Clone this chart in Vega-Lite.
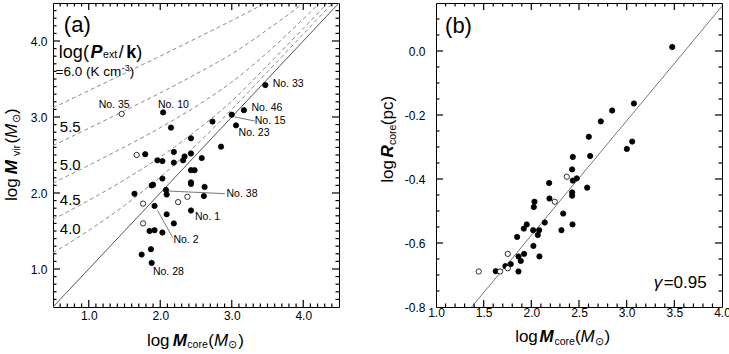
{
  "$schema": "https://vega.github.io/schema/vega-lite/v6.json",
  "background": "white",
  "padding": {"left": 2, "top": 1, "right": 0, "bottom": 0},
  "spacing": 37,
  "config": {
    "font": "Liberation Sans",
    "view": {"stroke": "black", "strokeWidth": 1},
    "axis": {"grid": false, "domain": false, "ticks": false, "labelColor": "black", "labelFont": "Liberation Sans", "labelFontSize": 12, "labelOverlap": false, "labelFlush": false},
    "text": {"font": "Liberation Sans", "color": "black"},
    "rule": {"color": "black", "strokeWidth": 1.2}
  },
  "datasets": {
    "ticks_a": [
      {"v": 0.6, "k": "minor"}, {"v": 0.7, "k": "minor"}, {"v": 0.8, "k": "minor"}, {"v": 0.9, "k": "minor"}, {"v": 1.0, "k": "major"},
      {"v": 1.1, "k": "minor"}, {"v": 1.2, "k": "minor"}, {"v": 1.3, "k": "minor"}, {"v": 1.4, "k": "minor"}, {"v": 1.5, "k": "minor"}, {"v": 1.6, "k": "minor"}, {"v": 1.7, "k": "minor"}, {"v": 1.8, "k": "minor"}, {"v": 1.9, "k": "minor"}, {"v": 2.0, "k": "major"},
      {"v": 2.1, "k": "minor"}, {"v": 2.2, "k": "minor"}, {"v": 2.3, "k": "minor"}, {"v": 2.4, "k": "minor"}, {"v": 2.5, "k": "minor"}, {"v": 2.6, "k": "minor"}, {"v": 2.7, "k": "minor"}, {"v": 2.8, "k": "minor"}, {"v": 2.9, "k": "minor"}, {"v": 3.0, "k": "major"},
      {"v": 3.1, "k": "minor"}, {"v": 3.2, "k": "minor"}, {"v": 3.3, "k": "minor"}, {"v": 3.4, "k": "minor"}, {"v": 3.5, "k": "minor"}, {"v": 3.6, "k": "minor"}, {"v": 3.7, "k": "minor"}, {"v": 3.8, "k": "minor"}, {"v": 3.9, "k": "minor"}, {"v": 4.0, "k": "major"},
      {"v": 4.1, "k": "minor"}, {"v": 4.2, "k": "minor"}, {"v": 4.3, "k": "minor"}, {"v": 4.4, "k": "minor"}
    ],
    "ticks_bx": [
      {"v": 1.1, "k": "minor"}, {"v": 1.2, "k": "minor"}, {"v": 1.3, "k": "minor"}, {"v": 1.4, "k": "minor"}, {"v": 1.5, "k": "major"},
      {"v": 1.6, "k": "minor"}, {"v": 1.7, "k": "minor"}, {"v": 1.8, "k": "minor"}, {"v": 1.9, "k": "minor"}, {"v": 2.0, "k": "major"},
      {"v": 2.1, "k": "minor"}, {"v": 2.2, "k": "minor"}, {"v": 2.3, "k": "minor"}, {"v": 2.4, "k": "minor"}, {"v": 2.5, "k": "major"},
      {"v": 2.6, "k": "minor"}, {"v": 2.7, "k": "minor"}, {"v": 2.8, "k": "minor"}, {"v": 2.9, "k": "minor"}, {"v": 3.0, "k": "major"},
      {"v": 3.1, "k": "minor"}, {"v": 3.2, "k": "minor"}, {"v": 3.3, "k": "minor"}, {"v": 3.4, "k": "minor"}, {"v": 3.5, "k": "major"},
      {"v": 3.6, "k": "minor"}, {"v": 3.7, "k": "minor"}, {"v": 3.8, "k": "minor"}, {"v": 3.9, "k": "minor"}
    ],
    "ticks_by": [
      {"v": -0.75, "k": "minor"}, {"v": -0.7, "k": "minor"}, {"v": -0.65, "k": "minor"}, {"v": -0.6, "k": "major"},
      {"v": -0.55, "k": "minor"}, {"v": -0.5, "k": "minor"}, {"v": -0.45, "k": "minor"}, {"v": -0.4, "k": "major"},
      {"v": -0.35, "k": "minor"}, {"v": -0.3, "k": "minor"}, {"v": -0.25, "k": "minor"}, {"v": -0.2, "k": "major"},
      {"v": -0.15, "k": "minor"}, {"v": -0.1, "k": "minor"}, {"v": -0.05, "k": "minor"}, {"v": 0.0, "k": "major"},
      {"v": 0.05, "k": "minor"}, {"v": 0.1, "k": "minor"}
    ],
    "curves_a": [
      {"P": "6.0", "x": 0.5, "y": 3.121}, {"P": "6.0", "x": 1.0, "y": 3.347}, {"P": "6.0", "x": 1.5, "y": 3.574}, {"P": "6.0", "x": 2.0, "y": 3.802}, {"P": "6.0", "x": 2.5, "y": 4.033}, {"P": "6.0", "x": 3.0, "y": 4.269}, {"P": "6.0", "x": 3.5, "y": 4.514},
      {"P": "5.5", "x": 0.5, "y": 2.623}, {"P": "5.5", "x": 1.0, "y": 2.851}, {"P": "5.5", "x": 1.5, "y": 3.082}, {"P": "5.5", "x": 2.0, "y": 3.317}, {"P": "5.5", "x": 2.5, "y": 3.565}, {"P": "5.5", "x": 3.0, "y": 3.83}, {"P": "5.5", "x": 3.5, "y": 4.15}, {"P": "5.5", "x": 4.0, "y": 4.5}, {"P": "5.5", "x": 4.5, "y": 4.9},
      {"P": "5.0", "x": 0.5, "y": 2.13}, {"P": "5.0", "x": 1.0, "y": 2.364}, {"P": "5.0", "x": 1.5, "y": 2.606}, {"P": "5.0", "x": 2.0, "y": 2.86}, {"P": "5.0", "x": 2.5, "y": 3.14}, {"P": "5.0", "x": 3.0, "y": 3.46}, {"P": "5.0", "x": 3.5, "y": 3.85}, {"P": "5.0", "x": 4.0, "y": 4.29}, {"P": "5.0", "x": 4.5, "y": 4.75},
      {"P": "4.5", "x": 0.5, "y": 1.652}, {"P": "4.5", "x": 1.0, "y": 1.903}, {"P": "4.5", "x": 1.5, "y": 2.174}, {"P": "4.5", "x": 2.0, "y": 2.473}, {"P": "4.5", "x": 2.5, "y": 2.82}, {"P": "4.5", "x": 3.0, "y": 3.21}, {"P": "4.5", "x": 3.5, "y": 3.68}, {"P": "4.5", "x": 4.0, "y": 4.165}, {"P": "4.5", "x": 4.5, "y": 4.655},
      {"P": "4.0", "x": 0.5, "y": 1.213}, {"P": "4.0", "x": 1.0, "y": 1.507}, {"P": "4.0", "x": 1.5, "y": 1.837}, {"P": "4.0", "x": 2.0, "y": 2.211}, {"P": "4.0", "x": 2.5, "y": 2.63}, {"P": "4.0", "x": 3.0, "y": 3.1}, {"P": "4.0", "x": 3.5, "y": 3.595}, {"P": "4.0", "x": 4.0, "y": 4.09}, {"P": "4.0", "x": 4.5, "y": 4.59}
    ],
    "ref_a": [{"x": 0.5, "y": 0.5}, {"x": 4.5, "y": 4.5}],
    "lead_a": [
      {"x": 3.043, "y": 3.0, "x2": 3.322, "y2": 2.947},
      {"x": 2.114, "y": 2.026, "x2": 2.904, "y2": 1.991},
      {"x": 1.961, "y": 1.772, "x2": 2.175, "y2": 1.412}
    ],
    "pts_a": [
      {"x": 3.47, "y": 3.42, "type": "filled"}, {"x": 2.04, "y": 3.06, "type": "filled"}, {"x": 2.15, "y": 2.86, "type": "filled"}, {"x": 2.73, "y": 2.94, "type": "filled"},
      {"x": 3.17, "y": 3.09, "type": "filled"}, {"x": 3.0, "y": 3.03, "type": "filled"}, {"x": 3.06, "y": 2.89, "type": "filled"}, {"x": 2.85, "y": 2.61, "type": "filled"},
      {"x": 2.43, "y": 2.72, "type": "filled"}, {"x": 1.79, "y": 2.51, "type": "filled"}, {"x": 2.19, "y": 2.54, "type": "filled"}, {"x": 1.96, "y": 2.43, "type": "filled"},
      {"x": 2.03, "y": 2.42, "type": "filled"}, {"x": 2.19, "y": 2.4, "type": "filled"}, {"x": 2.34, "y": 2.48, "type": "filled"}, {"x": 2.32, "y": 2.43, "type": "filled"},
      {"x": 2.43, "y": 2.52, "type": "filled"}, {"x": 2.58, "y": 2.46, "type": "filled"}, {"x": 2.43, "y": 2.3, "type": "filled"}, {"x": 2.48, "y": 2.3, "type": "filled"},
      {"x": 2.03, "y": 2.19, "type": "filled"}, {"x": 1.9, "y": 2.11, "type": "filled"}, {"x": 1.88, "y": 2.1, "type": "filled"}, {"x": 2.43, "y": 2.14, "type": "filled"},
      {"x": 2.43, "y": 2.12, "type": "filled"}, {"x": 2.62, "y": 2.08, "type": "filled"}, {"x": 1.64, "y": 1.99, "type": "filled"}, {"x": 2.08, "y": 2.04, "type": "filled"},
      {"x": 2.09, "y": 1.98, "type": "filled"}, {"x": 2.61, "y": 1.96, "type": "filled"}, {"x": 1.92, "y": 1.83, "type": "filled"}, {"x": 2.43, "y": 1.77, "type": "filled"},
      {"x": 2.09, "y": 1.72, "type": "filled"}, {"x": 2.19, "y": 1.6, "type": "filled"}, {"x": 1.85, "y": 1.5, "type": "filled"}, {"x": 1.92, "y": 1.51, "type": "filled"},
      {"x": 2.03, "y": 1.48, "type": "filled"}, {"x": 1.87, "y": 1.26, "type": "filled"}, {"x": 1.74, "y": 1.19, "type": "filled"}, {"x": 1.88, "y": 1.08, "type": "filled"},
      {"x": 1.46, "y": 3.04, "type": "open"}, {"x": 1.67, "y": 2.5, "type": "open"}, {"x": 1.76, "y": 1.86, "type": "open"}, {"x": 1.76, "y": 1.6, "type": "open"},
      {"x": 2.25, "y": 1.88, "type": "open"}, {"x": 2.38, "y": 1.95, "type": "open"}
    ],
    "nolab_a": [
      {"t": "No. 33", "x": 3.572, "y": 3.43}, {"t": "No. 46", "x": 3.276, "y": 3.12}, {"t": "No. 15", "x": 3.322, "y": 2.943}, {"t": "No. 23", "x": 3.095, "y": 2.786},
      {"t": "No. 38", "x": 2.927, "y": 1.983}, {"t": "No. 1", "x": 2.486, "y": 1.69}, {"t": "No. 2", "x": 2.184, "y": 1.382}, {"t": "No. 28", "x": 1.897, "y": 0.965},
      {"t": "No. 35", "x": 1.139, "y": 3.154}, {"t": "No. 10", "x": 1.967, "y": 3.154}
    ],
    "txt_a": [
      {"role": "axis", "t": "log", "x": 1.813, "y": -0.013}, {"role": "axis", "t": "(", "x": 2.671, "y": -0.013}, {"role": "axis", "t": ")", "x": 3.092, "y": -0.013},
      {"role": "axisM", "t": "M", "x": 2.175, "y": -0.013},
      {"role": "axisSub", "t": "core", "x": 2.379, "y": -0.039}, {"role": "axisSub", "t": "⊙", "x": 2.953, "y": -0.039},
      {"role": "axisMi", "t": "M", "x": 2.751, "y": -0.013},
      {"role": "yaxis", "t": "log", "x": 0.0, "y": 1.895}, {"role": "yaxis", "t": "(", "x": 0.0, "y": 2.651}, {"role": "yaxis", "t": ")", "x": 0.0, "y": 3.039},
      {"role": "yaxisM", "t": "M", "x": 0.0, "y": 2.246},
      {"role": "yaxisSub", "t": "vir", "x": 0.04, "y": 2.487}, {"role": "yaxisSub", "t": "⊙", "x": 0.04, "y": 2.921},
      {"role": "yaxisMi", "t": "M", "x": 0.0, "y": 2.724},
      {"role": "leg", "t": "log(", "x": 0.582, "y": 3.78}, {"role": "leg", "t": "/", "x": 1.418, "y": 3.78}, {"role": "leg", "t": ")", "x": 1.665, "y": 3.78},
      {"role": "legP", "t": "P", "x": 1.024, "y": 3.78},
      {"role": "legSub", "t": "ext", "x": 1.2, "y": 3.78},
      {"role": "legk", "t": "k", "x": 1.525, "y": 3.78},
      {"role": "leg2", "t": "=6.0 (K cm", "x": 0.536, "y": 3.54}, {"role": "leg2", "t": ")", "x": 1.575, "y": 3.54},
      {"role": "leg2sup", "t": "-3", "x": 1.462, "y": 3.605},
      {"role": "panel", "t": "(a)", "x": 0.652, "y": 4.118},
      {"role": "plab", "t": "5.5", "x": 0.596, "y": 2.864}, {"role": "plab", "t": "5.0", "x": 0.596, "y": 2.366}, {"role": "plab", "t": "4.5", "x": 0.596, "y": 1.912}, {"role": "plab", "t": "4.0", "x": 0.596, "y": 1.52}
    ],
    "pts_b": [
      {"x": 3.478, "y": 0.0125, "type": "filled"}, {"x": 3.076, "y": -0.164, "type": "filled"}, {"x": 2.848, "y": -0.186, "type": "filled"}, {"x": 2.729, "y": -0.22, "type": "filled"},
      {"x": 2.603, "y": -0.268, "type": "filled"}, {"x": 3.058, "y": -0.283, "type": "filled"}, {"x": 3.002, "y": -0.306, "type": "filled"}, {"x": 2.617, "y": -0.328, "type": "filled"},
      {"x": 2.435, "y": -0.331, "type": "filled"}, {"x": 2.428, "y": -0.37, "type": "filled"}, {"x": 2.435, "y": -0.405, "type": "filled"}, {"x": 2.477, "y": -0.398, "type": "filled"},
      {"x": 2.187, "y": -0.4125, "type": "filled"}, {"x": 2.586, "y": -0.427, "type": "filled"}, {"x": 2.428, "y": -0.442, "type": "filled"}, {"x": 2.428, "y": -0.452, "type": "filled"},
      {"x": 2.19, "y": -0.461, "type": "filled"}, {"x": 2.033, "y": -0.471, "type": "filled"}, {"x": 2.026, "y": -0.4875, "type": "filled"}, {"x": 2.334, "y": -0.508, "type": "filled"},
      {"x": 2.141, "y": -0.536, "type": "filled"}, {"x": 1.952, "y": -0.542, "type": "filled"}, {"x": 2.432, "y": -0.542, "type": "filled"}, {"x": 1.921, "y": -0.555, "type": "filled"},
      {"x": 2.019, "y": -0.56, "type": "filled"}, {"x": 2.082, "y": -0.56, "type": "filled"}, {"x": 2.316, "y": -0.56, "type": "filled"}, {"x": 1.851, "y": -0.581, "type": "filled"},
      {"x": 2.068, "y": -0.575, "type": "filled"}, {"x": 2.022, "y": -0.609, "type": "filled"}, {"x": 1.924, "y": -0.634, "type": "filled"}, {"x": 2.085, "y": -0.642, "type": "filled"},
      {"x": 1.865, "y": -0.642, "type": "filled"}, {"x": 1.889, "y": -0.656, "type": "filled"}, {"x": 1.784, "y": -0.666, "type": "filled"}, {"x": 1.728, "y": -0.672, "type": "filled"},
      {"x": 1.627, "y": -0.688, "type": "filled"}, {"x": 1.865, "y": -0.689, "type": "filled"},
      {"x": 1.448, "y": -0.689, "type": "open"}, {"x": 1.672, "y": -0.689, "type": "open"}, {"x": 1.753, "y": -0.679, "type": "open"}, {"x": 1.753, "y": -0.634, "type": "open"},
      {"x": 2.246, "y": -0.471, "type": "open"}, {"x": 2.372, "y": -0.393, "type": "open"}
    ],
    "fit_b": [{"x": 1.3745, "y": -0.8}, {"x": 4.0, "y": 0.14}],
    "txt_b": [
      {"role": "axis", "t": "log", "x": 1.83, "y": -0.908}, {"role": "axis", "t": "(", "x": 2.458, "y": -0.908}, {"role": "axis", "t": ")", "x": 2.768, "y": -0.908},
      {"role": "axisM", "t": "M", "x": 2.085, "y": -0.908},
      {"role": "axisSub", "t": "core", "x": 2.243, "y": -0.918}, {"role": "axisSub", "t": "⊙", "x": 2.663, "y": -0.918},
      {"role": "axisMi", "t": "M", "x": 2.516, "y": -0.908},
      {"role": "yaxis", "t": "log", "x": 0.551, "y": -0.4115}, {"role": "yaxis", "t": "(pc)", "x": 0.551, "y": -0.232},
      {"role": "yaxisM", "t": "R", "x": 0.551, "y": -0.333},
      {"role": "yaxisSub", "t": "core", "x": 0.583, "y": -0.294},
      {"role": "panel", "t": "(b)", "x": 1.095, "y": 0.057},
      {"role": "gam", "t": "γ", "x": 3.283, "y": -0.742},
      {"role": "gam2", "t": "=0.95", "x": 3.388, "y": -0.742}
    ]
  },
  "hconcat": [
    {
      "width": 286,
      "height": 304,
      "layer": [
        {
          "data": {"name": "curves_a"},
          "mark": {"type": "line", "color": "#8a8a8a", "strokeWidth": 1, "strokeDash": [4, 3], "clip": true, "interpolate": "monotone"},
          "encoding": {
            "x": {"field": "x", "type": "quantitative", "scale": {"domain": [0.5, 4.5], "nice": false, "zero": false},
              "axis": {"orient": "bottom", "values": [1, 2, 3, 4], "format": ".1f", "labelPadding": 3, "title": null}},
            "y": {"field": "y", "type": "quantitative", "scale": {"domain": [0.5, 4.5], "nice": false, "zero": false},
              "axis": {"orient": "left", "values": [1, 2, 3, 4], "format": ".1f", "labelPadding": 6, "title": null}},
            "detail": {"field": "P", "type": "nominal"}
          }
        },
        {
          "data": {"name": "ref_a"},
          "mark": {"type": "line", "color": "#555555", "strokeWidth": 1, "clip": true},
          "encoding": {
            "x": {"field": "x", "type": "quantitative", "scale": {"domain": [0.5, 4.5], "nice": false, "zero": false}},
            "y": {"field": "y", "type": "quantitative", "scale": {"domain": [0.5, 4.5], "nice": false, "zero": false}}
          }
        },
        {
          "data": {"name": "ticks_a"}, "transform": [{"filter": "datum.k == 'major'"}],
          "mark": {"type": "rule"},
          "encoding": {
            "x": {"field": "v", "type": "quantitative", "scale": {"domain": [0.5, 4.5], "nice": false, "zero": false}},
            "y": {"datum": 0.5, "type": "quantitative", "scale": {"domain": [0.5, 4.5], "nice": false, "zero": false}},
            "y2": {"datum": 0.592}
          }
        },
        {
          "data": {"name": "ticks_a"}, "transform": [{"filter": "datum.k == 'minor'"}],
          "mark": {"type": "rule"},
          "encoding": {
            "x": {"field": "v", "type": "quantitative", "scale": {"domain": [0.5, 4.5], "nice": false, "zero": false}},
            "y": {"datum": 0.5, "type": "quantitative", "scale": {"domain": [0.5, 4.5], "nice": false, "zero": false}},
            "y2": {"datum": 0.546}
          }
        },
        {
          "data": {"name": "ticks_a"}, "transform": [{"filter": "datum.k == 'major'"}],
          "mark": {"type": "rule"},
          "encoding": {
            "x": {"field": "v", "type": "quantitative", "scale": {"domain": [0.5, 4.5], "nice": false, "zero": false}},
            "y": {"datum": 4.5, "type": "quantitative", "scale": {"domain": [0.5, 4.5], "nice": false, "zero": false}},
            "y2": {"datum": 4.408}
          }
        },
        {
          "data": {"name": "ticks_a"}, "transform": [{"filter": "datum.k == 'minor'"}],
          "mark": {"type": "rule"},
          "encoding": {
            "x": {"field": "v", "type": "quantitative", "scale": {"domain": [0.5, 4.5], "nice": false, "zero": false}},
            "y": {"datum": 4.5, "type": "quantitative", "scale": {"domain": [0.5, 4.5], "nice": false, "zero": false}},
            "y2": {"datum": 4.454}
          }
        },
        {
          "data": {"name": "ticks_a"}, "transform": [{"filter": "datum.k == 'major'"}],
          "mark": {"type": "rule"},
          "encoding": {
            "y": {"field": "v", "type": "quantitative", "scale": {"domain": [0.5, 4.5], "nice": false, "zero": false}},
            "x": {"datum": 0.5, "type": "quantitative", "scale": {"domain": [0.5, 4.5], "nice": false, "zero": false}},
            "x2": {"datum": 0.598}
          }
        },
        {
          "data": {"name": "ticks_a"}, "transform": [{"filter": "datum.k == 'minor'"}],
          "mark": {"type": "rule"},
          "encoding": {
            "y": {"field": "v", "type": "quantitative", "scale": {"domain": [0.5, 4.5], "nice": false, "zero": false}},
            "x": {"datum": 0.5, "type": "quantitative", "scale": {"domain": [0.5, 4.5], "nice": false, "zero": false}},
            "x2": {"datum": 0.549}
          }
        },
        {
          "data": {"name": "ticks_a"}, "transform": [{"filter": "datum.k == 'major'"}],
          "mark": {"type": "rule"},
          "encoding": {
            "y": {"field": "v", "type": "quantitative", "scale": {"domain": [0.5, 4.5], "nice": false, "zero": false}},
            "x": {"datum": 4.5, "type": "quantitative", "scale": {"domain": [0.5, 4.5], "nice": false, "zero": false}},
            "x2": {"datum": 4.402}
          }
        },
        {
          "data": {"name": "ticks_a"}, "transform": [{"filter": "datum.k == 'minor'"}],
          "mark": {"type": "rule"},
          "encoding": {
            "y": {"field": "v", "type": "quantitative", "scale": {"domain": [0.5, 4.5], "nice": false, "zero": false}},
            "x": {"datum": 4.5, "type": "quantitative", "scale": {"domain": [0.5, 4.5], "nice": false, "zero": false}},
            "x2": {"datum": 4.451}
          }
        },
        {
          "data": {"name": "lead_a"},
          "mark": {"type": "rule", "color": "#777777", "strokeWidth": 1},
          "encoding": {
            "x": {"field": "x", "type": "quantitative", "scale": {"domain": [0.5, 4.5], "nice": false, "zero": false}},
            "y": {"field": "y", "type": "quantitative", "scale": {"domain": [0.5, 4.5], "nice": false, "zero": false}},
            "x2": {"field": "x2"},
            "y2": {"field": "y2"}
          }
        },
        {
          "data": {"name": "pts_a"},
          "mark": {"type": "point", "shape": "circle", "filled": true, "size": 28, "stroke": "black", "strokeWidth": 0.8, "opacity": 1},
          "encoding": {
            "x": {"field": "x", "type": "quantitative", "scale": {"domain": [0.5, 4.5], "nice": false, "zero": false}},
            "y": {"field": "y", "type": "quantitative", "scale": {"domain": [0.5, 4.5], "nice": false, "zero": false}},
            "fill": {"field": "type", "type": "nominal", "scale": {"domain": ["filled", "open"], "range": ["black", "white"]}, "legend": null}
          }
        },
        {
          "data": {"name": "nolab_a"},
          "mark": {"type": "text", "fontSize": 10.5, "align": "left", "baseline": "middle"},
          "encoding": {
            "x": {"field": "x", "type": "quantitative", "scale": {"domain": [0.5, 4.5], "nice": false, "zero": false}},
            "y": {"field": "y", "type": "quantitative", "scale": {"domain": [0.5, 4.5], "nice": false, "zero": false}},
            "text": {"field": "t"}
          }
        },
        {
          "data": {"name": "txt_a"},
          "transform": [{"filter": "datum.role == 'axis'"}],
          "mark": {"type": "text", "fontSize": 17, "align": "left", "baseline": "alphabetic"},
          "encoding": {
            "x": {"field": "x", "type": "quantitative", "scale": {"domain": [0.5, 4.5], "nice": false, "zero": false}},
            "y": {"field": "y", "type": "quantitative", "scale": {"domain": [0.5, 4.5], "nice": false, "zero": false}},
            "text": {"field": "t"}
          }
        },
        {
          "data": {"name": "txt_a"},
          "transform": [{"filter": "datum.role == 'leg'"}],
          "mark": {"type": "text", "fontSize": 18, "align": "left", "baseline": "alphabetic"},
          "encoding": {
            "x": {"field": "x", "type": "quantitative", "scale": {"domain": [0.5, 4.5], "nice": false, "zero": false}},
            "y": {"field": "y", "type": "quantitative", "scale": {"domain": [0.5, 4.5], "nice": false, "zero": false}},
            "text": {"field": "t"}
          }
        },
        {
          "data": {"name": "txt_a"},
          "transform": [{"filter": "datum.role == 'axisM'"}],
          "mark": {"type": "text", "fontSize": 17, "fontWeight": "bold", "fontStyle": "italic", "align": "left", "baseline": "alphabetic"},
          "encoding": {
            "x": {"field": "x", "type": "quantitative", "scale": {"domain": [0.5, 4.5], "nice": false, "zero": false}},
            "y": {"field": "y", "type": "quantitative", "scale": {"domain": [0.5, 4.5], "nice": false, "zero": false}},
            "text": {"field": "t"}
          }
        },
        {
          "data": {"name": "txt_a"},
          "transform": [{"filter": "datum.role == 'legP'"}],
          "mark": {"type": "text", "fontSize": 18, "fontWeight": "bold", "fontStyle": "italic", "align": "left", "baseline": "alphabetic"},
          "encoding": {
            "x": {"field": "x", "type": "quantitative", "scale": {"domain": [0.5, 4.5], "nice": false, "zero": false}},
            "y": {"field": "y", "type": "quantitative", "scale": {"domain": [0.5, 4.5], "nice": false, "zero": false}},
            "text": {"field": "t"}
          }
        },
        {
          "data": {"name": "txt_a"},
          "transform": [{"filter": "datum.role == 'legk'"}],
          "mark": {"type": "text", "fontSize": 18, "fontWeight": "bold", "align": "left", "baseline": "alphabetic"},
          "encoding": {
            "x": {"field": "x", "type": "quantitative", "scale": {"domain": [0.5, 4.5], "nice": false, "zero": false}},
            "y": {"field": "y", "type": "quantitative", "scale": {"domain": [0.5, 4.5], "nice": false, "zero": false}},
            "text": {"field": "t"}
          }
        },
        {
          "data": {"name": "txt_a"},
          "transform": [{"filter": "datum.role == 'axisMi'"}],
          "mark": {"type": "text", "fontSize": 17, "fontStyle": "italic", "align": "left", "baseline": "alphabetic"},
          "encoding": {
            "x": {"field": "x", "type": "quantitative", "scale": {"domain": [0.5, 4.5], "nice": false, "zero": false}},
            "y": {"field": "y", "type": "quantitative", "scale": {"domain": [0.5, 4.5], "nice": false, "zero": false}},
            "text": {"field": "t"}
          }
        },
        {
          "data": {"name": "txt_a"},
          "transform": [{"filter": "datum.role == 'axisSub' || datum.role == 'legSub'"}],
          "mark": {"type": "text", "fontSize": 10.5, "align": "left", "baseline": "alphabetic"},
          "encoding": {
            "x": {"field": "x", "type": "quantitative", "scale": {"domain": [0.5, 4.5], "nice": false, "zero": false}},
            "y": {"field": "y", "type": "quantitative", "scale": {"domain": [0.5, 4.5], "nice": false, "zero": false}},
            "text": {"field": "t"}
          }
        },
        {
          "data": {"name": "txt_a"},
          "transform": [{"filter": "datum.role == 'yaxis'"}],
          "mark": {"type": "text", "fontSize": 17, "angle": 270, "align": "left", "baseline": "alphabetic"},
          "encoding": {
            "x": {"field": "x", "type": "quantitative", "scale": {"domain": [0.5, 4.5], "nice": false, "zero": false}},
            "y": {"field": "y", "type": "quantitative", "scale": {"domain": [0.5, 4.5], "nice": false, "zero": false}},
            "text": {"field": "t"}
          }
        },
        {
          "data": {"name": "txt_a"},
          "transform": [{"filter": "datum.role == 'yaxisM'"}],
          "mark": {"type": "text", "fontSize": 17, "fontWeight": "bold", "fontStyle": "italic", "angle": 270, "align": "left", "baseline": "alphabetic"},
          "encoding": {
            "x": {"field": "x", "type": "quantitative", "scale": {"domain": [0.5, 4.5], "nice": false, "zero": false}},
            "y": {"field": "y", "type": "quantitative", "scale": {"domain": [0.5, 4.5], "nice": false, "zero": false}},
            "text": {"field": "t"}
          }
        },
        {
          "data": {"name": "txt_a"},
          "transform": [{"filter": "datum.role == 'yaxisMi'"}],
          "mark": {"type": "text", "fontSize": 17, "fontStyle": "italic", "angle": 270, "align": "left", "baseline": "alphabetic"},
          "encoding": {
            "x": {"field": "x", "type": "quantitative", "scale": {"domain": [0.5, 4.5], "nice": false, "zero": false}},
            "y": {"field": "y", "type": "quantitative", "scale": {"domain": [0.5, 4.5], "nice": false, "zero": false}},
            "text": {"field": "t"}
          }
        },
        {
          "data": {"name": "txt_a"},
          "transform": [{"filter": "datum.role == 'yaxisSub'"}],
          "mark": {"type": "text", "fontSize": 10.5, "angle": 270, "align": "left", "baseline": "alphabetic"},
          "encoding": {
            "x": {"field": "x", "type": "quantitative", "scale": {"domain": [0.5, 4.5], "nice": false, "zero": false}},
            "y": {"field": "y", "type": "quantitative", "scale": {"domain": [0.5, 4.5], "nice": false, "zero": false}},
            "text": {"field": "t"}
          }
        },
        {
          "data": {"name": "txt_a"},
          "transform": [{"filter": "datum.role == 'leg2'"}],
          "mark": {"type": "text", "fontSize": 13.5, "align": "left", "baseline": "alphabetic"},
          "encoding": {
            "x": {"field": "x", "type": "quantitative", "scale": {"domain": [0.5, 4.5], "nice": false, "zero": false}},
            "y": {"field": "y", "type": "quantitative", "scale": {"domain": [0.5, 4.5], "nice": false, "zero": false}},
            "text": {"field": "t"}
          }
        },
        {
          "data": {"name": "txt_a"},
          "transform": [{"filter": "datum.role == 'leg2sup'"}],
          "mark": {"type": "text", "fontSize": 9, "align": "left", "baseline": "alphabetic"},
          "encoding": {
            "x": {"field": "x", "type": "quantitative", "scale": {"domain": [0.5, 4.5], "nice": false, "zero": false}},
            "y": {"field": "y", "type": "quantitative", "scale": {"domain": [0.5, 4.5], "nice": false, "zero": false}},
            "text": {"field": "t"}
          }
        },
        {
          "data": {"name": "txt_a"},
          "transform": [{"filter": "datum.role == 'panel'"}],
          "mark": {"type": "text", "fontSize": 22, "align": "left", "baseline": "alphabetic"},
          "encoding": {
            "x": {"field": "x", "type": "quantitative", "scale": {"domain": [0.5, 4.5], "nice": false, "zero": false}},
            "y": {"field": "y", "type": "quantitative", "scale": {"domain": [0.5, 4.5], "nice": false, "zero": false}},
            "text": {"field": "t"}
          }
        },
        {
          "data": {"name": "txt_a"},
          "transform": [{"filter": "datum.role == 'plab'"}],
          "mark": {"type": "text", "fontSize": 15, "align": "left", "baseline": "middle"},
          "encoding": {
            "x": {"field": "x", "type": "quantitative", "scale": {"domain": [0.5, 4.5], "nice": false, "zero": false}},
            "y": {"field": "y", "type": "quantitative", "scale": {"domain": [0.5, 4.5], "nice": false, "zero": false}},
            "text": {"field": "t"}
          }
        }
      ]
    },
    {
      "width": 286,
      "height": 304,
      "layer": [
        {
          "data": {"name": "fit_b"},
          "mark": {"type": "line", "color": "#777777", "strokeWidth": 1, "clip": true},
          "encoding": {
            "x": {"field": "x", "type": "quantitative", "scale": {"domain": [1, 4], "nice": false, "zero": false},
              "axis": {"orient": "bottom", "values": [1, 1.5, 2, 2.5, 3, 3.5, 4], "format": ".1f", "labelPadding": 0, "title": null}},
            "y": {"field": "y", "type": "quantitative", "scale": {"domain": [-0.8, 0.15], "nice": false, "zero": false},
              "axis": {"orient": "left", "values": [-0.8, -0.6, -0.4, -0.2, 0], "format": ".1f", "labelExpr": "replace(datum.label, '−', '-')", "labelPadding": 11, "title": null}}
          }
        },
        {
          "data": {"name": "ticks_bx"}, "transform": [{"filter": "datum.k == 'major'"}],
          "mark": {"type": "rule"},
          "encoding": {
            "x": {"field": "v", "type": "quantitative", "scale": {"domain": [1, 4], "nice": false, "zero": false}},
            "y": {"datum": -0.8, "type": "quantitative", "scale": {"domain": [-0.8, 0.15], "nice": false, "zero": false}},
            "y2": {"datum": -0.778}
          }
        },
        {
          "data": {"name": "ticks_bx"}, "transform": [{"filter": "datum.k == 'minor'"}],
          "mark": {"type": "rule"},
          "encoding": {
            "x": {"field": "v", "type": "quantitative", "scale": {"domain": [1, 4], "nice": false, "zero": false}},
            "y": {"datum": -0.8, "type": "quantitative", "scale": {"domain": [-0.8, 0.15], "nice": false, "zero": false}},
            "y2": {"datum": -0.789}
          }
        },
        {
          "data": {"name": "ticks_bx"}, "transform": [{"filter": "datum.k == 'major'"}],
          "mark": {"type": "rule"},
          "encoding": {
            "x": {"field": "v", "type": "quantitative", "scale": {"domain": [1, 4], "nice": false, "zero": false}},
            "y": {"datum": 0.15, "type": "quantitative", "scale": {"domain": [-0.8, 0.15], "nice": false, "zero": false}},
            "y2": {"datum": 0.128}
          }
        },
        {
          "data": {"name": "ticks_bx"}, "transform": [{"filter": "datum.k == 'minor'"}],
          "mark": {"type": "rule"},
          "encoding": {
            "x": {"field": "v", "type": "quantitative", "scale": {"domain": [1, 4], "nice": false, "zero": false}},
            "y": {"datum": 0.15, "type": "quantitative", "scale": {"domain": [-0.8, 0.15], "nice": false, "zero": false}},
            "y2": {"datum": 0.139}
          }
        },
        {
          "data": {"name": "ticks_by"}, "transform": [{"filter": "datum.k == 'major'"}],
          "mark": {"type": "rule"},
          "encoding": {
            "y": {"field": "v", "type": "quantitative", "scale": {"domain": [-0.8, 0.15], "nice": false, "zero": false}},
            "x": {"datum": 1, "type": "quantitative", "scale": {"domain": [1, 4], "nice": false, "zero": false}},
            "x2": {"datum": 1.0734}
          }
        },
        {
          "data": {"name": "ticks_by"}, "transform": [{"filter": "datum.k == 'minor'"}],
          "mark": {"type": "rule"},
          "encoding": {
            "y": {"field": "v", "type": "quantitative", "scale": {"domain": [-0.8, 0.15], "nice": false, "zero": false}},
            "x": {"datum": 1, "type": "quantitative", "scale": {"domain": [1, 4], "nice": false, "zero": false}},
            "x2": {"datum": 1.0367}
          }
        },
        {
          "data": {"name": "ticks_by"}, "transform": [{"filter": "datum.k == 'major'"}],
          "mark": {"type": "rule"},
          "encoding": {
            "y": {"field": "v", "type": "quantitative", "scale": {"domain": [-0.8, 0.15], "nice": false, "zero": false}},
            "x": {"datum": 4, "type": "quantitative", "scale": {"domain": [1, 4], "nice": false, "zero": false}},
            "x2": {"datum": 3.9266}
          }
        },
        {
          "data": {"name": "ticks_by"}, "transform": [{"filter": "datum.k == 'minor'"}],
          "mark": {"type": "rule"},
          "encoding": {
            "y": {"field": "v", "type": "quantitative", "scale": {"domain": [-0.8, 0.15], "nice": false, "zero": false}},
            "x": {"datum": 4, "type": "quantitative", "scale": {"domain": [1, 4], "nice": false, "zero": false}},
            "x2": {"datum": 3.9633}
          }
        },
        {
          "data": {"name": "pts_b"},
          "mark": {"type": "point", "shape": "circle", "filled": true, "size": 28, "stroke": "black", "strokeWidth": 0.8, "opacity": 1},
          "encoding": {
            "x": {"field": "x", "type": "quantitative", "scale": {"domain": [1, 4], "nice": false, "zero": false}},
            "y": {"field": "y", "type": "quantitative", "scale": {"domain": [-0.8, 0.15], "nice": false, "zero": false}},
            "fill": {"field": "type", "type": "nominal", "scale": {"domain": ["filled", "open"], "range": ["black", "white"]}, "legend": null}
          }
        },
        {
          "data": {"name": "txt_b"},
          "transform": [{"filter": "datum.role == 'axis' || datum.role == 'gam2'"}],
          "mark": {"type": "text", "fontSize": 17, "align": "left", "baseline": "alphabetic"},
          "encoding": {
            "x": {"field": "x", "type": "quantitative", "scale": {"domain": [1, 4], "nice": false, "zero": false}},
            "y": {"field": "y", "type": "quantitative", "scale": {"domain": [-0.8, 0.15], "nice": false, "zero": false}},
            "text": {"field": "t"}
          }
        },
        {
          "data": {"name": "txt_b"},
          "transform": [{"filter": "datum.role == 'axisM'"}],
          "mark": {"type": "text", "fontSize": 17, "fontWeight": "bold", "fontStyle": "italic", "align": "left", "baseline": "alphabetic"},
          "encoding": {
            "x": {"field": "x", "type": "quantitative", "scale": {"domain": [1, 4], "nice": false, "zero": false}},
            "y": {"field": "y", "type": "quantitative", "scale": {"domain": [-0.8, 0.15], "nice": false, "zero": false}},
            "text": {"field": "t"}
          }
        },
        {
          "data": {"name": "txt_b"},
          "transform": [{"filter": "datum.role == 'axisMi' || datum.role == 'gam'"}],
          "mark": {"type": "text", "fontSize": 17, "fontStyle": "italic", "align": "left", "baseline": "alphabetic"},
          "encoding": {
            "x": {"field": "x", "type": "quantitative", "scale": {"domain": [1, 4], "nice": false, "zero": false}},
            "y": {"field": "y", "type": "quantitative", "scale": {"domain": [-0.8, 0.15], "nice": false, "zero": false}},
            "text": {"field": "t"}
          }
        },
        {
          "data": {"name": "txt_b"},
          "transform": [{"filter": "datum.role == 'axisSub'"}],
          "mark": {"type": "text", "fontSize": 10.5, "align": "left", "baseline": "alphabetic"},
          "encoding": {
            "x": {"field": "x", "type": "quantitative", "scale": {"domain": [1, 4], "nice": false, "zero": false}},
            "y": {"field": "y", "type": "quantitative", "scale": {"domain": [-0.8, 0.15], "nice": false, "zero": false}},
            "text": {"field": "t"}
          }
        },
        {
          "data": {"name": "txt_b"},
          "transform": [{"filter": "datum.role == 'yaxis'"}],
          "mark": {"type": "text", "fontSize": 17, "angle": 270, "align": "left", "baseline": "alphabetic"},
          "encoding": {
            "x": {"field": "x", "type": "quantitative", "scale": {"domain": [1, 4], "nice": false, "zero": false}},
            "y": {"field": "y", "type": "quantitative", "scale": {"domain": [-0.8, 0.15], "nice": false, "zero": false}},
            "text": {"field": "t"}
          }
        },
        {
          "data": {"name": "txt_b"},
          "transform": [{"filter": "datum.role == 'yaxisM'"}],
          "mark": {"type": "text", "fontSize": 17, "fontWeight": "bold", "fontStyle": "italic", "angle": 270, "align": "left", "baseline": "alphabetic"},
          "encoding": {
            "x": {"field": "x", "type": "quantitative", "scale": {"domain": [1, 4], "nice": false, "zero": false}},
            "y": {"field": "y", "type": "quantitative", "scale": {"domain": [-0.8, 0.15], "nice": false, "zero": false}},
            "text": {"field": "t"}
          }
        },
        {
          "data": {"name": "txt_b"},
          "transform": [{"filter": "datum.role == 'yaxisSub'"}],
          "mark": {"type": "text", "fontSize": 10.5, "angle": 270, "align": "left", "baseline": "alphabetic"},
          "encoding": {
            "x": {"field": "x", "type": "quantitative", "scale": {"domain": [1, 4], "nice": false, "zero": false}},
            "y": {"field": "y", "type": "quantitative", "scale": {"domain": [-0.8, 0.15], "nice": false, "zero": false}},
            "text": {"field": "t"}
          }
        },
        {
          "data": {"name": "txt_b"},
          "transform": [{"filter": "datum.role == 'panel'"}],
          "mark": {"type": "text", "fontSize": 22, "align": "left", "baseline": "alphabetic"},
          "encoding": {
            "x": {"field": "x", "type": "quantitative", "scale": {"domain": [1, 4], "nice": false, "zero": false}},
            "y": {"field": "y", "type": "quantitative", "scale": {"domain": [-0.8, 0.15], "nice": false, "zero": false}},
            "text": {"field": "t"}
          }
        }
      ]
    }
  ]
}
